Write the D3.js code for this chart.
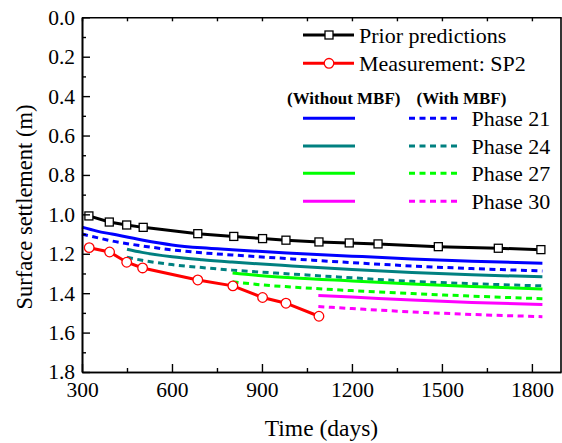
<!DOCTYPE html>
<html><head><meta charset="utf-8">
<script src="https://cdn.jsdelivr.net/npm/d3@7/dist/d3.min.js"></script>
<style>body{margin:0;background:#fff}svg{display:block}text{font-family:"Liberation Serif","Times New Roman",serif}</style>
</head><body><svg id="c" width="562" height="443"></svg>
<script>
// ---- data ----
const priorDays = [323,391,449,504,686,806,902,980,1090,1191,1287,1488,1688,1830];
const priorVals = [1.008,1.039,1.054,1.066,1.098,1.112,1.123,1.131,1.140,1.145,1.150,1.164,1.172,1.179];
const measDays = [324,392,449,502,686,803,902,980,1090];
const measVals = [1.169,1.191,1.243,1.272,1.333,1.363,1.422,1.451,1.517];

const p21Days = [300,350,400,500,600,700,800,1000,1200,1400,1600,1835];
const p21Without = [1.065,1.085,1.100,1.130,1.155,1.170,1.180,1.197,1.212,1.226,1.238,1.248];
const p21With = [1.100,1.118,1.135,1.160,1.180,1.195,1.206,1.226,1.245,1.262,1.275,1.287];
const p24Days = [450,500,600,700,800,1000,1200,1400,1600,1835];
const p24Without = [1.177,1.193,1.215,1.230,1.242,1.262,1.280,1.295,1.307,1.317];
const p24With = [1.218,1.233,1.255,1.270,1.283,1.303,1.322,1.340,1.352,1.363];
const p27Days = [802,900,1000,1200,1400,1600,1835];
const p27Without = [1.297,1.311,1.322,1.338,1.353,1.366,1.379];
const p27With = [1.342,1.358,1.369,1.387,1.402,1.415,1.428];
const p30Days = [1088,1200,1400,1600,1835];
const p30Without = [1.412,1.420,1.435,1.447,1.458];
const p30With = [1.468,1.478,1.495,1.508,1.519];

const phaseNames = ["Phase 21","Phase 24","Phase 27","Phase 30"];
const phaseColors = ["#0000ff","#008080","#00ff00","#ff00ff"];
const xTicks = [300,600,900,1200,1500,1800];
const yTicks = [0.0,0.2,0.4,0.6,0.8,1.0,1.2,1.4,1.6,1.8];

// ---- layout ----
const svg = d3.select("#c");
const L=82, R=561, T=17.3, B=372;
const x = d3.scaleLinear().domain([300,1897]).range([L,R]);
const y = d3.scaleLinear().domain([0,1.8]).range([T,B]);

const phases = [
  {days:p21Days, wo:p21Without, w:p21With},
  {days:p24Days, wo:p24Without, w:p24With},
  {days:p27Days, wo:p27Without, w:p27With},
  {days:p30Days, wo:p30Without, w:p30With}
];
const curve = d3.line().x(d=>x(d[0])).y(d=>y(d[1])).curve(d3.curveMonotoneX);
const lin = d3.line().x(d=>x(d[0])).y(d=>y(d[1]));

const dash = "6,4.5";
phases.forEach((p,i)=>{
  svg.append("path").attr("d",curve(p.days.map((d,j)=>[d,p.wo[j]])))
    .attr("fill","none").attr("stroke",phaseColors[i]).attr("stroke-width",3);
  svg.append("path").attr("d",curve(p.days.map((d,j)=>[d,p.w[j]])))
    .attr("fill","none").attr("stroke",phaseColors[i]).attr("stroke-width",3).attr("stroke-dasharray",dash);
});

// prior
const prior = priorDays.map((d,i)=>[d,priorVals[i]]);
svg.append("path").attr("d",lin(prior)).attr("fill","none").attr("stroke","#000").attr("stroke-width",3);
svg.selectAll(".sq").data(prior).enter().append("rect")
  .attr("x",d=>x(d[0])-4).attr("y",d=>y(d[1])-4).attr("width",8).attr("height",8)
  .attr("fill","#fff").attr("stroke","#000").attr("stroke-width",1.3);
// measurement
const meas = measDays.map((d,i)=>[d,measVals[i]]);
svg.append("path").attr("d",lin(meas)).attr("fill","none").attr("stroke","#ff0000").attr("stroke-width",3);
svg.selectAll(".ci").data(meas).enter().append("circle")
  .attr("cx",d=>x(d[0])).attr("cy",d=>y(d[1])).attr("r",4.8)
  .attr("fill","#fff").attr("stroke","#ff0000").attr("stroke-width",1.3);

// ---- axes ----
const gx = svg.append("g").attr("transform",`translate(0,${B})`)
  .call(d3.axisBottom(x).tickValues(xTicks).tickSizeInner(-8).tickSizeOuter(0).tickPadding(10).tickFormat(d3.format("d")));
const gxm = svg.append("g").attr("transform",`translate(0,${B})`)
  .call(d3.axisBottom(x).tickValues(d3.range(450,1900,300)).tickSizeInner(-4).tickSizeOuter(0).tickFormat(""));
const gy = svg.append("g").attr("transform",`translate(${L},0)`)
  .call(d3.axisLeft(y).tickValues(yTicks).tickSizeInner(-8).tickSizeOuter(0).tickPadding(7).tickFormat(d3.format(".1f")));
const gym = svg.append("g").attr("transform",`translate(${L},0)`)
  .call(d3.axisLeft(y).tickValues(d3.range(0.1,1.8,0.2)).tickSizeInner(-4).tickSizeOuter(0).tickFormat(""));
const gt = svg.append("g").attr("transform",`translate(0,${T})`)
  .call(d3.axisTop(x).tickValues(d3.range(300,1900,150)).tickSizeInner(-4).tickSizeOuter(0).tickFormat(""));
[gx,gxm,gy,gym,gt].forEach(g=>{
  g.selectAll("path").attr("stroke","#000").attr("stroke-width",1.6);
  g.selectAll("line").attr("stroke","#000").attr("stroke-width",1.4);
  g.selectAll("text").attr("font-family","Liberation Serif").attr("font-size",21.5).attr("fill","#000");
});
svg.append("line").attr("x1",R).attr("x2",R).attr("y1",T).attr("y2",B).attr("stroke","#000").attr("stroke-width",1.6);

svg.append("text").attr("x",(L+R)/2).attr("y",436).attr("text-anchor","middle")
  .attr("font-size",23.5).text("Time (days)");
svg.append("text").attr("transform","translate(32,207) rotate(-90)").attr("text-anchor","middle")
  .attr("font-size",22.5).text("Surface settlement (m)");

// ---- legend ----
const lg = svg.append("g");
lg.append("line").attr("x1",303).attr("x2",354).attr("y1",35).attr("y2",35).attr("stroke","#000").attr("stroke-width",3);
lg.append("rect").attr("x",325).attr("y",31).attr("width",8).attr("height",8).attr("fill","#fff").attr("stroke","#000").attr("stroke-width",1.3);
lg.append("text").attr("x",359).attr("y",43).attr("font-size",22).text("Prior predictions");
lg.append("line").attr("x1",303).attr("x2",354).attr("y1",63.3).attr("y2",63.3).attr("stroke","#ff0000").attr("stroke-width",3);
lg.append("circle").attr("cx",329).attr("cy",63.3).attr("r",4.8).attr("fill","#fff").attr("stroke","#ff0000").attr("stroke-width",1.3);
lg.append("text").attr("x",359).attr("y",71.3).attr("font-size",22).text("Measurement: SP2");
lg.append("text").attr("x",287).attr("y",104).attr("font-size",17).attr("font-weight","bold").text("(Without MBF)");
lg.append("text").attr("x",416.5).attr("y",104).attr("font-size",17).attr("font-weight","bold").text("(With MBF)");
const rowY = [118.3,146,173.3,201.3];
phaseNames.forEach((n,i)=>{
  lg.append("line").attr("x1",303).attr("x2",355).attr("y1",rowY[i]).attr("y2",rowY[i]).attr("stroke",phaseColors[i]).attr("stroke-width",3);
  lg.append("line").attr("x1",409).attr("x2",461).attr("y1",rowY[i]).attr("y2",rowY[i]).attr("stroke",phaseColors[i]).attr("stroke-width",3).attr("stroke-dasharray",dash);
  lg.append("text").attr("x",471.5).attr("y",rowY[i]+8).attr("font-size",22).text(n);
});
</script></body></html>
